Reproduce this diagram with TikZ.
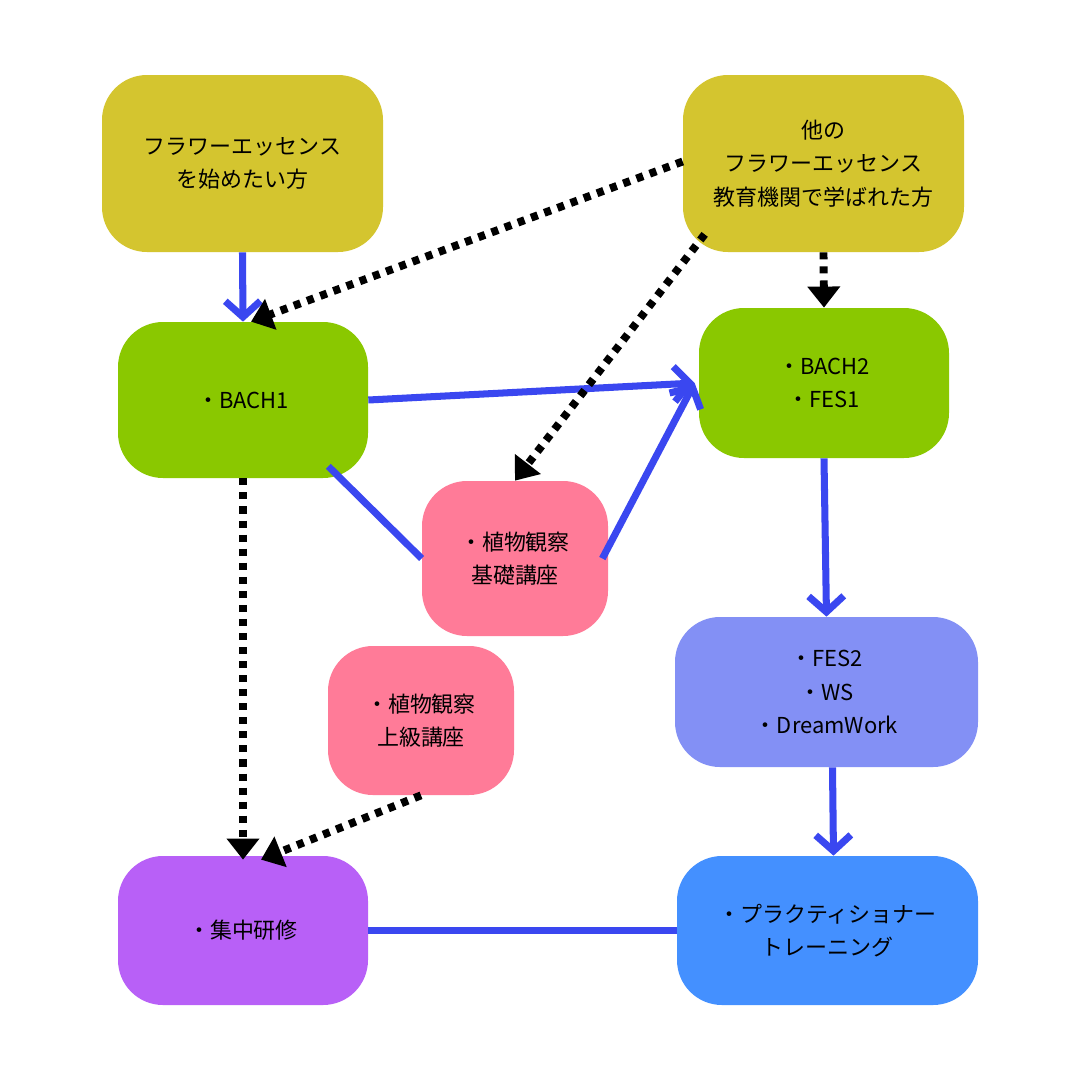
\documentclass[tikz,border=0pt]{standalone}
\usepackage{fontspec}
\setmainfont{Noto Sans CJK JP}
\usetikzlibrary{arrows.meta,calc}
\definecolor{yel}{HTML}{D4C52F}
\definecolor{grn}{HTML}{8AC800}
\definecolor{pnk}{HTML}{FF7B98}
\definecolor{lav}{HTML}{8390F5}
\definecolor{pur}{HTML}{B860F7}
\definecolor{blu}{HTML}{4490FF}
\definecolor{lnk}{HTML}{3A47F0}
\begin{document}
\begin{tikzpicture}[x=0.02cm,y=-0.02cm,
 box/.style={rounded corners=0.9cm,inner sep=0pt,align=center,font=\fontsize{12.5}{19}\selectfont},
 bl/.style={draw=lnk,line width=4pt},
 ba/.style={bl,-{Straight Barb[length=9pt,width=20pt,line width=4pt]}},
 dt/.style={draw=black,line width=4.5pt,dash pattern=on 4pt off 4pt,-{Triangle[length=12pt,width=18pt]}}]
\useasboundingbox[fill=white] (0,0) rectangle (1080,1080);
\newcommand{\bx}[7]{\node[box,fill=#6,minimum width=#4*0.02cm,minimum height=#5*0.02cm] (#1) at (#2,#3) {#7};}
\bx{A}{242.5}{163.5}{281}{177}{yel}{フラワーエッセンス\\を始めたい方}
\bx{B}{823.5}{163.5}{281}{177}{yel}{他の\\フラワーエッセンス\\教育機関で学ばれた方}
\bx{C}{243}{400}{250}{156}{grn}{・BACH1}
\bx{D}{824}{383}{250}{150}{grn}{・BACH2\\・FES1}
\bx{E}{515}{558.5}{186}{155}{pnk}{・植物観察\\基礎講座}
\bx{F}{421}{720.5}{186}{149}{pnk}{・植物観察\\上級講座}
\bx{G}{826.5}{692}{303}{150}{lav}{・FES2\\・WS\\・DreamWork}
\bx{H}{243}{930.5}{250}{149}{pur}{・集中研修}
\bx{I}{827.5}{930.5}{301}{149}{blu}{・プラクティショナー\\トレーニング}
\draw[ba] (A.south) -- (C.north);
\draw[ba] (C.east) -- ($(D.west)+(-4,0)$);
\draw[bl] ($(C.south east)+(-40,-12)$) -- ($(E.west)+(0,0)$);
\draw[ba] ($(E.east)+(-6,0)$) -- ($(D.west)+(-4,0)$);
\draw[ba] (D.south) -- (G.north);
\draw[ba] ($(G.south)+(6,0)$) -- ($(I.north)+(6,0)$);
\draw[bl] (H.east) -- (I.west);
\draw[dt] ($(B.west)+(0,-2)$) -- ($(C.north)+(8,0)$);
\draw[dt] ($(B.south west)+(22,-18)$) -- (E.north);
\draw[dt] (B.south) -- (D.north);
\draw[dt] (C.south) -- ($(H.north)+(0,4)$);
\draw[dt] ($(F.south)+(0,0)$) -- ($(H.north)+(18,4)$);
\end{tikzpicture}
\end{document}
